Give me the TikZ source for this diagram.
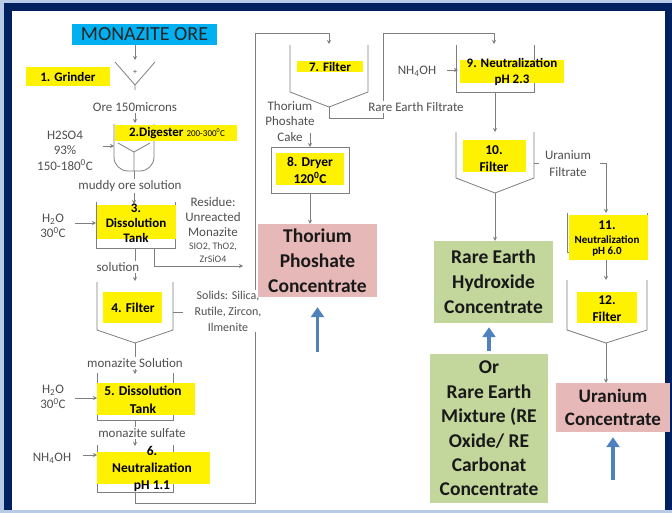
\documentclass[tikz,border=0pt]{standalone}
\usepackage{fontspec}
\setmainfont{Carlito}
\usetikzlibrary{arrows.meta}
\definecolor{bgpale}{HTML}{B9CAE6}
\definecolor{frameblue}{HTML}{002060}
\definecolor{feedcyan}{HTML}{00B0F0}
\definecolor{pinkbox}{HTML}{E6B8B7}
\definecolor{greenbox}{HTML}{C3D69B}
\definecolor{arrblue}{HTML}{4F81BD}
\definecolor{linegray}{HTML}{7F7F7F}
\definecolor{labelgray}{HTML}{505050}
\begin{document}
\begin{tikzpicture}[x=1pt,y=-1pt,
  pipe/.style={draw=linegray,line width=0.8pt},
  arr/.style={pipe,-{Stealth[length=4pt,width=4pt]}},
  lbl/.style={font=\fontsize{13}{15}\selectfont,text=labelgray,align=center,inner sep=1pt},
  wlbl/.style={lbl,fill=white},
  ybox/.style={fill=yellow,inner sep=0pt},
  ytxt/.style={font=\bfseries\fontsize{13}{17}\selectfont,align=center,inner sep=0pt},
  prod/.style={font=\bfseries\fontsize{19.5}{25}\selectfont,align=center,inner sep=0pt,text=black!90},
  uparr/.style={draw=arrblue,line width=3.5pt,-{Triangle[length=10pt,width=13pt]}}]
\useasboundingbox (0,0) rectangle (672,513);
\fill[bgpale] (0,0) rectangle (672,513);
\fill[frameblue] (4,3) rectangle (672,510);
\fill[white] (12,11) rectangle (665,510);
% vessels
\draw[pipe] (115,62)--(135,85)--(155,62) (135,85)--(135,90);
\draw[pipe,rounded corners=14pt] (114,124)--(114,171)--(154,171)--(154,124);
\draw[pipe] (118,143)--(134,152)--(150,143) (134,152)--(134,171);
\draw[pipe] (96,202)--(96,248)--(175,248)--(175,202);
\draw[pipe] (97,282)--(97,330)--(135,343)--(173,330)--(173,282);
\draw[pipe] (97,373)--(97,420)--(173,420)--(173,373);
\draw[pipe] (97,445)--(97,492)--(173,492)--(173,445);
\draw[pipe] (290,45)--(290,92)--(329,107)--(368,92)--(368,45);
\draw[pipe] (456,45)--(456,92)--(534,92)--(534,45);
\draw[pipe] (456,132)--(456,178)--(495,193)--(534,178)--(534,132);
\draw[pipe] (567,213)--(567,252)--(647,252)--(647,213);
\draw[pipe] (567,280)--(567,330)--(606,343)--(647,330)--(647,280);
% ports
\coordinate (grin) at (135,60);
\coordinate (digin) at (135,123);
\coordinate (acidin) at (114,146);
\coordinate (digout) at (134,171);
\coordinate (t3in) at (134,204);
\coordinate (w1in) at (96,223);
\coordinate (t3side) at (154,248);
\coordinate (resout) at (243,266);
\coordinate (t3out) at (135,248);
\coordinate (f4in) at (135,281);
\coordinate (f4side) at (173,312);
\coordinate (f4out) at (135,343);
\coordinate (t5in) at (135,374);
\coordinate (w2in) at (97,398);
\coordinate (t5out) at (135,420);
\coordinate (t6in) at (135,446);
\coordinate (b1in) at (97,455);
\coordinate (t6out) at (135,492);
\coordinate (f7in) at (329,44);
\coordinate (f7out) at (329,107);
\coordinate (t9in) at (494,44);
\coordinate (b2in) at (458,70);
\coordinate (t9out) at (495,92);
\coordinate (f10in) at (495,132);
\coordinate (f10out) at (495,193);
\coordinate (ufout) at (600,163);
\coordinate (t11in) at (606,213);
\coordinate (t11out) at (606,260);
\coordinate (f12in) at (606,280);
\coordinate (f12out) at (606,343);
\coordinate (d8in) at (310,147);
% pipework
\draw[arr] (digout) -- (t3in);
\draw[arr] (w1in) ++(-21,0) -- (w1in);
\draw[arr] (acidin) ++(-11,0) -- (acidin);
\draw[arr] (t3side) |- (resout);
\draw[arr] (t3out) -- (f4in);
\draw[pipe] (f4side) -- ++(10,0);
\draw[arr] (f4out) -- (t5in);
\draw[arr] (w2in) ++(-22,0) -- (w2in);
\draw[arr] (t5out) -- (t6in);
\draw[arr] (b1in) ++(-14,0) -- (b1in);
\draw[arr] (t6out) |- (255,503) -- (255,33) -| (f7in);
\draw[arr] (f7out) |- (383,118) -- (383,33) -| (t9in);
\draw[arr] (d8in) ++(0,-14) -- (d8in);
\draw[arr] (b2in) ++(-11,0) -- (b2in);
\draw[arr] (t9out) -- (f10in);
\draw[pipe] (534,163) -- ++(5,0);
\draw[arr] (ufout) -| (t11in);
\draw[arr] (t11out) -- (f12in);
% boxes and labels
\node[fill=feedcyan,minimum width=145,minimum height=21,inner sep=0pt,font=\fontsize{20}{20}\selectfont,text=black!85] (ore) at (144.5,34.5) {MONAZITE ORE};
\node[lbl,font=\fontsize{8}{8}\selectfont] (plus) at (135,72) {+};
\node[ybox,minimum width=84,minimum height=19] (y1) at (68,76.5) {};
\node[ytxt] (t1) at (68,76.5) {1. Grinder};
\node[lbl] (mesh) at (135,107) {Ore 150microns};
\node[ybox,minimum width=122,minimum height=16] (y2) at (176,133) {};
\node[ytxt] (t2) at (177,133) {2.Digester {\mdseries\fontsize{9}{9}\selectfont 200-300\textsuperscript{0}C}};
\node[lbl,font=\fontsize{13}{15.5}\selectfont] (acid) at (65,150.5) {H2SO4\\93\%\\150-180\textsuperscript{0}C};
\node[wlbl] (mud) at (130,186) {muddy ore solution};
\node[ybox,minimum width=79,minimum height=34] (y3) at (136.5,222) {};
\node[ytxt,font=\bfseries\fontsize{13}{15}\selectfont] (t3) at (136,223) {3.\\Dissolution\\Tank};
\node[lbl] (water1) at (53,226) {H\textsubscript{2}O\\30\textsuperscript{0}C};
\node[lbl] (resid) at (213,217) {Residue:\\Unreacted\\Monazite};
\node[lbl,font=\fontsize{10}{13}\selectfont] (residox) at (213,252.5) {SIO2, ThO2,\\ZrSiO4};
\node[wlbl] (sol) at (118,267) {solution};
\node[ybox,minimum width=59,minimum height=31] (y4) at (132.5,307.5) {};
\node[ytxt,font=\bfseries\fontsize{13.5}{17}\selectfont] (t4) at (133,308) {4. Filter};
\node[wlbl,font=\fontsize{12}{16}\selectfont] (solids) at (228,311) {Solids: Silica,\\Rutile, Zircon,\\Ilmenite};
\node[wlbl] (monsol) at (135,363) {monazite Solution};
\node[ybox,minimum width=98,minimum height=32] (y5) at (146,399) {};
\node[ytxt,font=\bfseries\fontsize{13.5}{18}\selectfont] (t5) at (143,400) {5. Dissolution\\Tank};
\node[lbl] (water2) at (53,397) {H\textsubscript{2}O\\30\textsuperscript{0}C};
\node[wlbl] (monsulf) at (142,433) {monazite sulfate};
\node[ybox,minimum width=113,minimum height=32] (y6) at (153.5,468) {};
\node[ytxt,font=\bfseries\fontsize{13.5}{17}\selectfont] (t6) at (152,469) {6.\\Neutralization\\pH 1.1};
\node[lbl] (base1) at (52,458) {NH\textsubscript{4}OH};
\node[ybox,minimum width=66,minimum height=11] (y7) at (330,66.5) {};
\node[ytxt] (t7) at (330,67) {7. Filter};
\node[wlbl] (refilt) at (416,107) {Rare Earth Filtrate};
\node[lbl,font=\fontsize{13}{15.5}\selectfont] (cake) at (290,121.5) {Thorium\\Phoshate\\Cake};
\node[draw=linegray,line width=0.8pt,minimum width=78,minimum height=46,inner sep=0pt] (dryer) at (310,170) {};
\node[ybox,minimum width=68,minimum height=32] (y8) at (310,169) {};
\node[ytxt,font=\bfseries\fontsize{13.5}{17}\selectfont] (t8) at (310,170.5) {8. Dryer\\120\textsuperscript{0}C};
\node[prod,fill=pinkbox,minimum width=119,minimum height=73] (thor) at (317.5,260.5) {Thorium\\Phoshate\\Concentrate};
\node[lbl] (base2) at (417,71) {NH\textsubscript{4}OH};
\node[ybox,minimum width=104,minimum height=23] (y9) at (512,71.5) {};
\node[ytxt,font=\bfseries\fontsize{13}{16}\selectfont] (t9) at (512,72) {9. Neutralization\\pH 2.3};
\node[ybox,minimum width=63,minimum height=32] (y10) at (494.5,156) {};
\node[ytxt,font=\bfseries\fontsize{13.5}{17}\selectfont] (t10) at (494,158.5) {10.\\Filter};
\node[lbl,font=\fontsize{13}{17}\selectfont] (urfilt) at (568,163.5) {Uranium\\Filtrate};
\node[prod,fill=greenbox,minimum width=119,minimum height=82] (reh) at (493.5,282) {Rare Earth\\Hydroxide\\Concentrate};
\node[prod,fill=greenbox,minimum width=118,minimum height=149,font=\bfseries\fontsize{19.5}{24.4}\selectfont] (rem) at (489,428.5) {Or\\Rare Earth\\Mixture (RE\\Oxide/ RE\\Carbonat\\Concentrate};
\node[ybox,minimum width=79,minimum height=45] (y11) at (608.5,237.5) {};
\node[ytxt,font=\bfseries\fontsize{13.5}{17}\selectfont] (t11) at (607,225) {11.};
\node[ytxt,font=\bfseries\fontsize{11}{11}\selectfont] (t11b) at (607,246) {Neutralization\\pH 6.0};
\node[ybox,minimum width=60,minimum height=31] (y12) at (607,307.5) {};
\node[ytxt,font=\bfseries\fontsize{13.5}{17}\selectfont] (t12) at (607,308.5) {12.\\Filter};
\node[prod,fill=pinkbox,minimum width=114,minimum height=49,font=\bfseries\fontsize{19}{23}\selectfont] (ura) at (613,407.5) {Uranium\\Concentrate};
% node to node
\draw[arr] (ore.south -| grin) -- (grin);
\draw[arr] (mesh.south) -- (digin);
\draw[arr] (dryer.south) -- (dryer.south |- thor.north);
\draw[arr] (f10out) -- (f10out |- reh.north);
\draw[arr] (f12out) -- (f12out |- ura.north);
\draw[uparr] (thor.south) ++(0,55) -- ++(0,-45);
\draw[uparr,shorten <=3pt,shorten >=4pt] (rem.north) -- (rem.north |- reh.south);
\draw[uparr] (ura.south) ++(0,48) -- ++(0,-43);
\end{tikzpicture}
\end{document}
